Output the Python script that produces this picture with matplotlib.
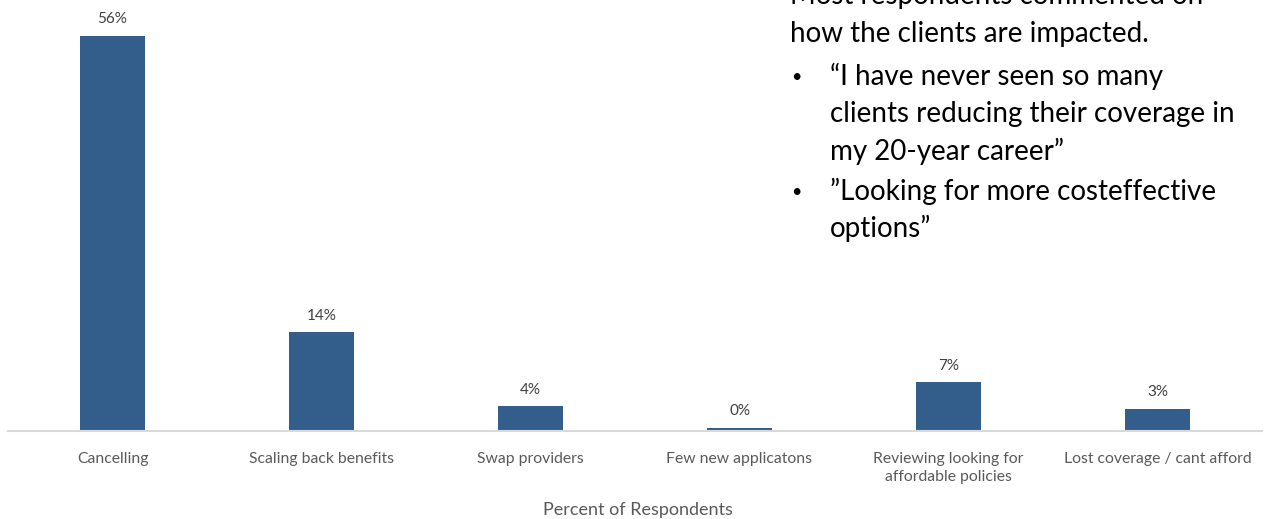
import matplotlib
matplotlib.use('Agg')
import matplotlib.pyplot as plt

categories = ['Cancelling', 'Scaling back benefits', 'Swap providers',
              'Few new applicatons', 'Reviewing looking for\naffordable policies',
              'Lost coverage / cant afford']
values = [56, 14, 3.5, 0.4, 6.9, 3.1]
value_labels = ['56%', '14%', '4%', '0%', '7%', '3%']

note_lines = [
    ('Most respondents commented on', False),
    ('how the clients are impacted.', False),
    ('\u201cI have never seen so many', True),
    ('clients reducing their coverage in', None),
    ('my 20-year career\u201d', None),
    ('\u201dLooking for more costeffective', True),
    ('options\u201d', None),
]
note_baselines = [4, 42, 85, 122, 160, 200, 237]

plt.rcParams['font.family'] = ['Lato', 'DejaVu Sans']

W, H = 1270, 519
fig = plt.figure(figsize=(W / 100, H / 100), dpi=100)
ax = fig.add_axes([8 / W, 88 / H, 1254 / W, 431 / H])

x = range(len(categories))
bars = ax.bar(x, values, width=0.31, color='#335e8c')
for b, lab in zip(bars, value_labels):
    ax.annotate(lab, (b.get_x() + b.get_width() / 2, b.get_height()),
                xytext=(0, 7), textcoords='offset points',
                ha='center', va='bottom', fontsize=11, color='#404040')

ax.set_xlim(-0.5, len(categories) - 0.5)
ax.set_ylim(0, 61.1)
ax.set_xticks(list(x))
ax.set_xticklabels(categories, fontsize=11.3, color='#595959', linespacing=1.35,
                   va='top')
ax.tick_params(axis='x', length=0, pad=15)
ax.set_yticks([])
for s in ['top', 'right', 'left']:
    ax.spines[s].set_visible(False)
ax.spines['bottom'].set_color('#d9d9d9')
ax.spines['bottom'].set_linewidth(1.5)

fig.text(638 / W, 1 - 510 / H, 'Percent of Respondents', ha='center', va='center',
         fontsize=13, color='#595959')

for (line, bullet), yb in zip(note_lines, note_baselines):
    if bullet is False:
        xp = 790
    else:
        xp = 830
    fig.text(xp / W, 1 - yb / H, line, ha='left', va='baseline',
             fontsize=20, color='black')
    if bullet:
        fig.text(791 / W, 1 - (yb - 8) / H, '\u2022', ha='left', va='center',
                 fontsize=13, color='black')

fig.savefig('out.png', dpi=100)
